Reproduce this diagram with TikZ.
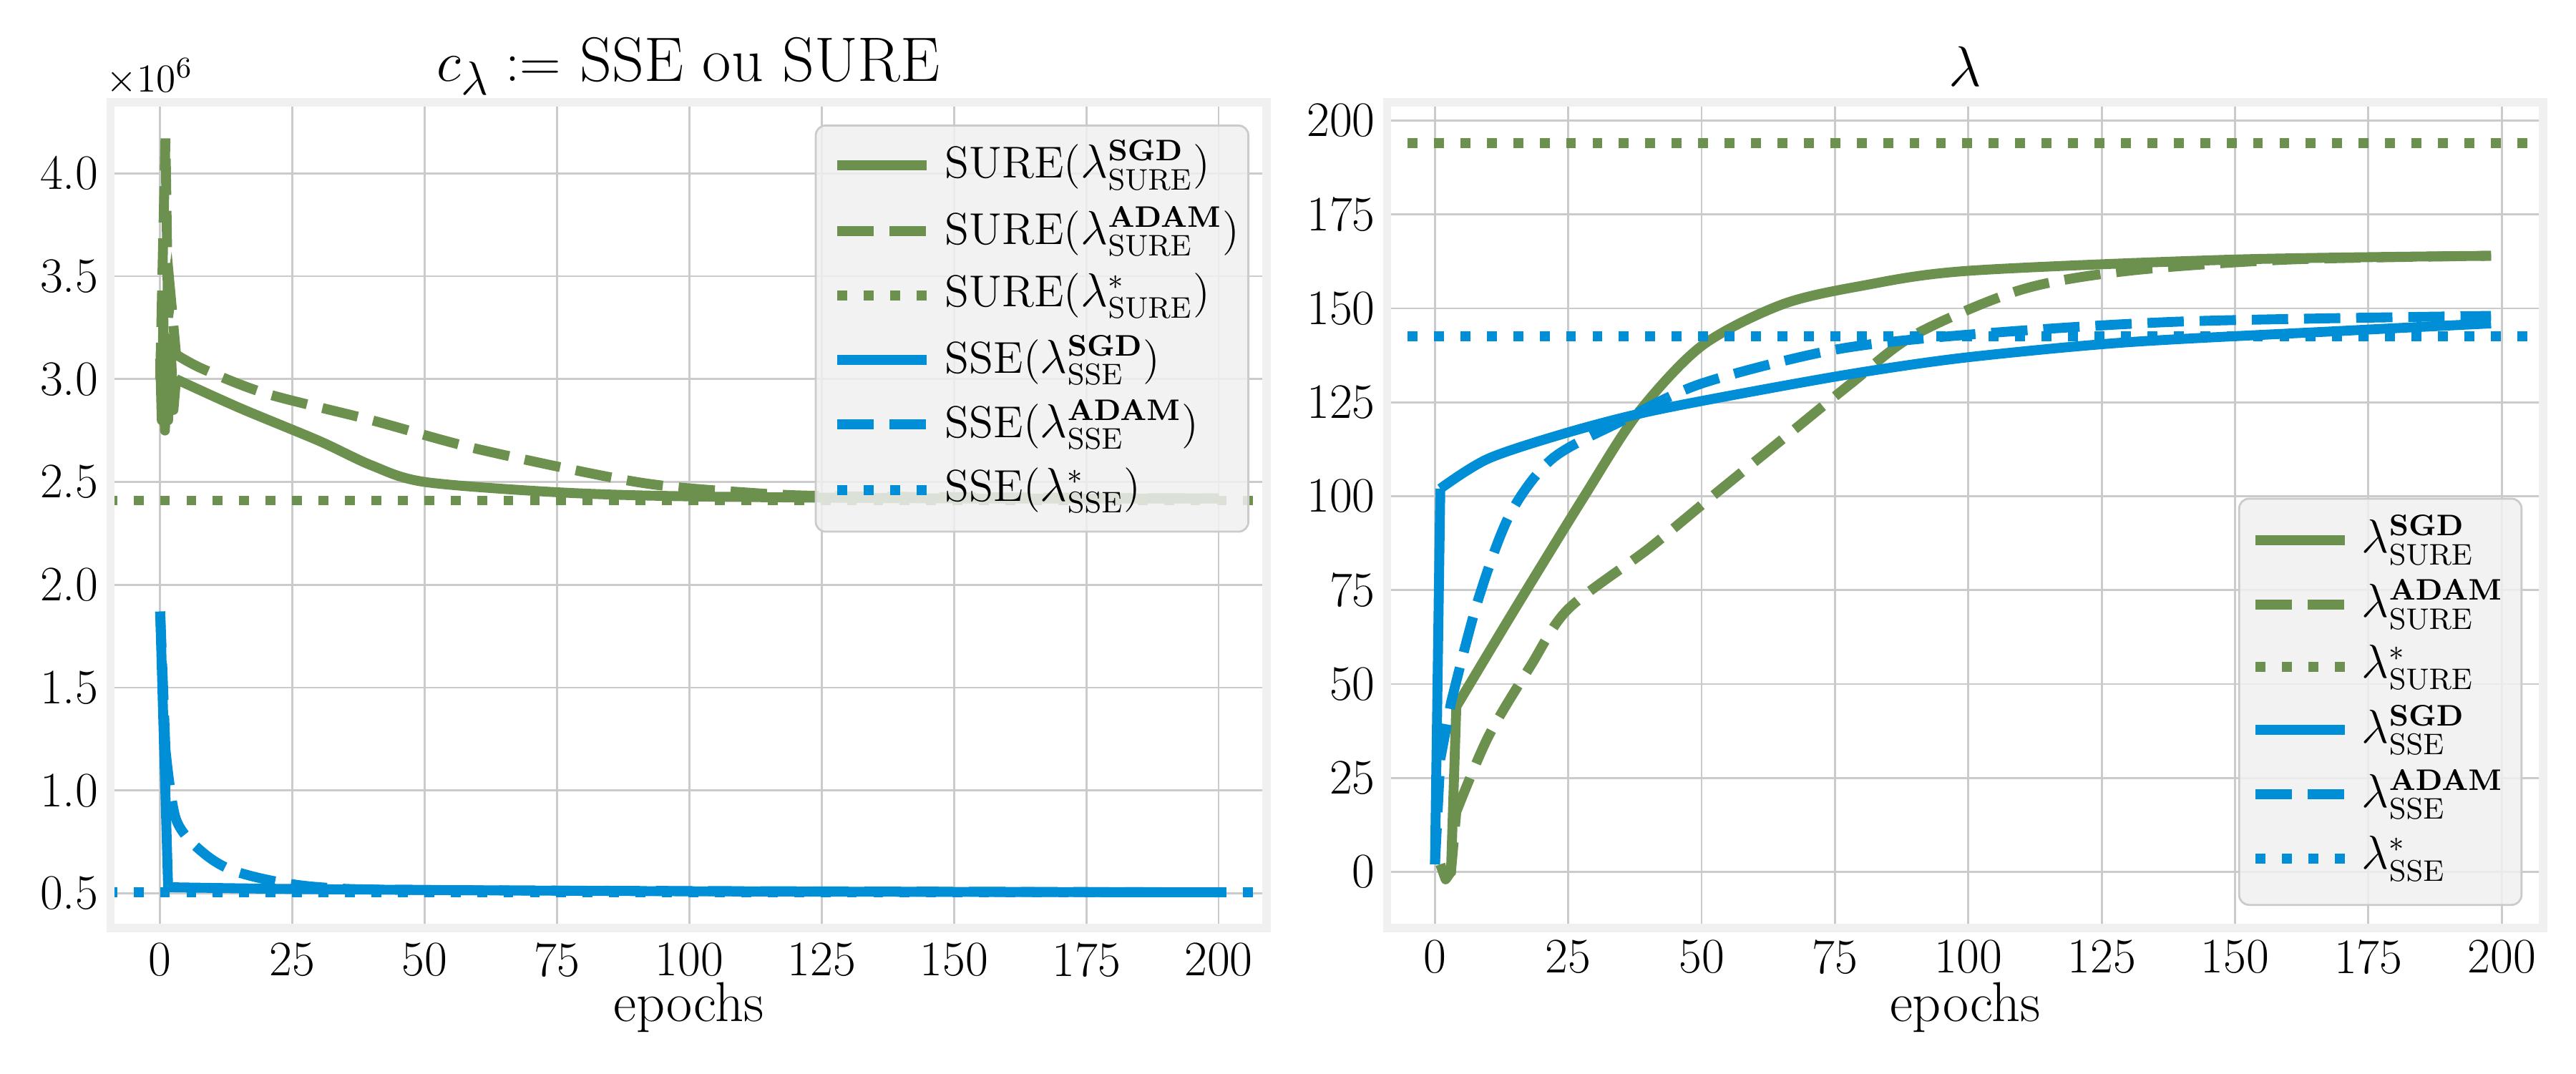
\documentclass[tikz,border=0pt]{standalone}
\usepackage{amsmath}
\usetikzlibrary{positioning}
\definecolor{sgreen}{RGB}{108,144,78}
\definecolor{sblue}{RGB}{0,142,214}
\definecolor{gridgrey}{RGB}{203,203,203}
\definecolor{framegrey}{RGB}{240,240,240}
\tikzset{
  curve/.style={line width=3pt},
  dashcurve/.style={curve, dash pattern=on 11pt off 4.8pt},
  dotcurve/.style={curve, dash pattern=on 3pt off 5pt},
  gridline/.style={gridgrey, line width=0.6pt},
  axframe/.style={framegrey, line width=2.5pt},
  ticklab/.style={font=\fontsize{15}{18}\selectfont, inner sep=1pt},
  leglab/.style={font=\fontsize{13.5}{16}\selectfont, anchor=west, inner sep=0pt},
  legbox/.style={draw=gridgrey, fill=framegrey, fill opacity=0.85, rounded corners=3pt, line width=0.6pt}
}
\begin{document}
\begin{tikzpicture}[x=0.5pt, y=-0.5pt]
\useasboundingbox (0,0) rectangle (1560,650);
% titles and axis labels
\node[font=\fontsize{19}{22}\selectfont] (ltitle) at (417,40) {$c_\lambda :=$ SSE ou SURE};
\node[font=\fontsize{19}{22}\selectfont] (rtitle) at (1190,40) {$\lambda$};
\node[font=\fontsize{13}{16}\selectfont, anchor=south west, inner sep=0pt] (lexp) at (64,58) {$\times10^{6}$};
\node[font=\fontsize{17}{20}\selectfont] (lxlab) at (417,610) {epochs};
\node[font=\fontsize{17}{20}\selectfont] (rxlab) at (1190,610) {epochs};

% left panel
\begin{scope}[shift={(97,603.3)}, x=1.6025pt, y=62.285pt]
  \foreach \e in {0,25,...,200} {
    \draw[gridline] (\e,0.33) -- (\e,4.345);
    \node[ticklab, below] (lx\e) at (\e,0.28) {\e};
  }
  \foreach \v/\t in {0.5/0.5,1/1.0,1.5/1.5,2/2.0,2.5/2.5,3/3.0,3.5/3.5,4/4.0} {
    \draw[gridline] (-9.4,\v) -- (209,\v);
    \node[ticklab, left] (ly\t) at (-11,\v) {\t};
  }
  \begin{scope}
    \clip (-9.4,0.33) rectangle (209,4.345);
    \draw[sgreen, curve, line join=round] (0,3.1) -- (0.3,2.8) -- (0.6,3.3) -- (0.9,2.75) -- (1.2,3.2) -- (1.5,2.8) -- (2,3.15) -- (2.5,2.85) -- (3,3.0)
      plot[smooth] coordinates {(3,3.0) (15,2.86) (30,2.7) (40,2.58) (50,2.5) (75,2.45) (100,2.43) (150,2.42) (200,2.42)};
    \draw[sgreen, dashcurve] (0,3.0) -- (0.5,3.6) -- (1,4.17) -- (1.5,3.3) -- (2,3.4) -- (3,3.12)
      plot[smooth] coordinates {(3,3.12) (8,3.05) (20,2.93) (40,2.8) (60,2.66) (90,2.5) (110,2.45) (130,2.43) (200,2.42)};
    \draw[sgreen, dotcurve] (-20,2.41) -- (220,2.41);
    \draw[sblue, curve, line join=round] (0,1.87) -- (1.5,0.53)
      plot[smooth] coordinates {(1.5,0.53) (30,0.52) (100,0.51) (200,0.505)};
    \draw[sblue, dashcurve] (0,1.87) -- (1,1.2)
      plot[smooth] coordinates {(1,1.2) (3,0.86) (8,0.7) (15,0.6) (30,0.53) (60,0.515) (200,0.505)};
    \draw[sblue, dotcurve] (-20,0.505) -- (220,0.505);
  \end{scope}
\end{scope}
\draw[axframe] (67,62) rectangle (767,562);
% left legend
\draw[legbox] (494,76) rectangle (756,322);
\draw[sgreen, curve] (507,100) -- (561,100);
\node[leglab] (l1) at (572,100) {SURE($\lambda^{\mathbf{SGD}}_{\mathrm{SURE}}$)};
\draw[sgreen, dashcurve] (507,140) -- (561,140);
\node[leglab] (l2) at (572,140) {SURE($\lambda^{\mathbf{ADAM}}_{\mathrm{SURE}}$)};
\draw[sgreen, dotcurve] (507,179) -- (561,179);
\node[leglab] (l3) at (572,179) {SURE($\lambda^{*}_{\mathrm{SURE}}$)};
\draw[sblue, curve] (507,218) -- (561,218);
\node[leglab] (l4) at (572,218) {SSE($\lambda^{\mathbf{SGD}}_{\mathrm{SSE}}$)};
\draw[sblue, dashcurve] (507,257) -- (561,257);
\node[leglab] (l5) at (572,257) {SSE($\lambda^{\mathbf{ADAM}}_{\mathrm{SSE}}$)};
\draw[sblue, dotcurve] (507,297) -- (561,297);
\node[leglab] (l6) at (572,297) {SSE($\lambda^{*}_{\mathrm{SSE}}$)};

% right panel
\begin{scope}[shift={(869,528)}, x=1.615pt, y=1.1375pt]
  \foreach \e in {0,25,...,200} {
    \draw[gridline] (\e,-15) -- (\e,204.8);
    \node[ticklab, below] (rx\e) at (\e,-17) {\e};
  }
  \foreach \v in {0,25,...,200} {
    \draw[gridline] (-9,\v) -- (207.7,\v);
    \node[ticklab, left] (ry\v) at (-10.5,\v) {\v};
  }
  \begin{scope}
    \clip (-9,-15) rectangle (207.7,204.8);
    \draw[sgreen, curve, line join=round] (1,2) -- (2,-2) -- (3,0) -- (4,44)
      plot[smooth] coordinates {(4,44) (15,70) (28,100) (38,122) (50,140) (65,151) (80,156) (100,160) (150,163) (198,164)};
    \draw[sgreen, dashcurve] (2,-1) -- (3,0) -- (4,16)
      plot[smooth] coordinates {(4,16) (10,36) (18,55) (25,70) (40,86) (52,100) (65,115) (78,130) (90,143) (110,155) (130,160) (160,163) (198,164)};
    \draw[sgreen, dotcurve] (-20,194) -- (220,194);
    \draw[sblue, curve, line join=round] (0,2) -- (1,102)
      plot[smooth] coordinates {(1,102) (10,110) (25,117) (40,122.5) (60,128) (80,133) (100,137) (130,141) (170,144) (198,146)};
    \draw[sblue, dashcurve] (0,2) -- (1,30) -- (3,45)
      plot[smooth] coordinates {(3,45) (8,72) (14,95) (22,110) (35,120) (50,130) (75,139) (100,143) (140,146.5) (198,148)};
    \draw[sblue, dotcurve] (-20,142.5) -- (220,142.5);
  \end{scope}
\end{scope}
\draw[axframe] (840,62) rectangle (1540,562);
% right legend
\draw[legbox] (1356,302) rectangle (1527,548);
\draw[sgreen, curve] (1366,327) -- (1420,327);
\node[leglab] (r1) at (1430,327) {$\lambda^{\mathbf{SGD}}_{\mathrm{SURE}}$};
\draw[sgreen, dashcurve] (1366,366) -- (1420,366);
\node[leglab] (r2) at (1430,366) {$\lambda^{\mathbf{ADAM}}_{\mathrm{SURE}}$};
\draw[sgreen, dotcurve] (1366,404) -- (1420,404);
\node[leglab] (r3) at (1430,404) {$\lambda^{*}_{\mathrm{SURE}}$};
\draw[sblue, curve] (1366,442) -- (1420,442);
\node[leglab] (r4) at (1430,442) {$\lambda^{\mathbf{SGD}}_{\mathrm{SSE}}$};
\draw[sblue, dashcurve] (1366,481) -- (1420,481);
\node[leglab] (r5) at (1430,481) {$\lambda^{\mathbf{ADAM}}_{\mathrm{SSE}}$};
\draw[sblue, dotcurve] (1366,520) -- (1420,520);
\node[leglab] (r6) at (1430,520) {$\lambda^{*}_{\mathrm{SSE}}$};
\end{tikzpicture}
\end{document}
